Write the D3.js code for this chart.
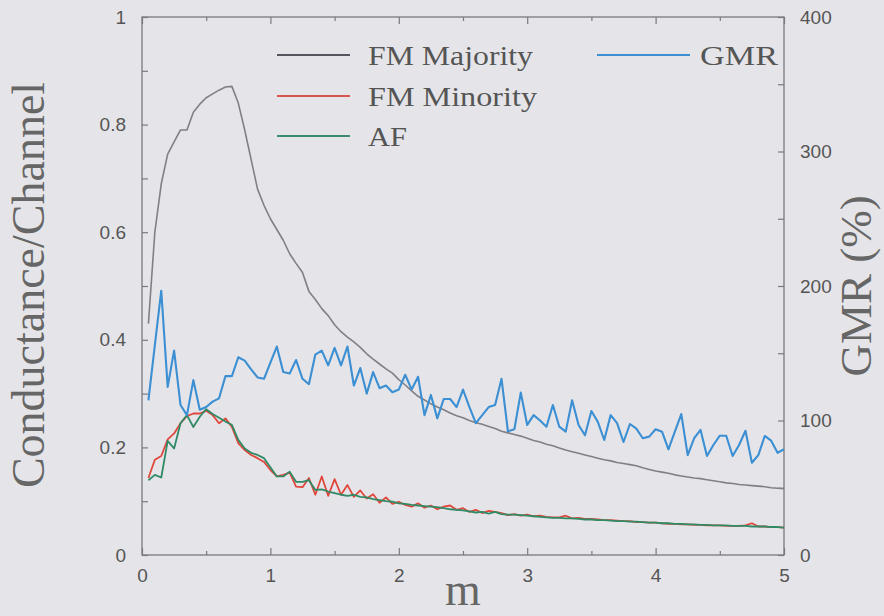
<!DOCTYPE html>
<html lang="en">
<head>
  <meta charset="UTF-8">
  <title>Conductance and GMR</title>
  <script src="https://d3js.org/d3.v7.min.js"></script>
  <style>
    body { margin: 0; background: #e6e6ea; }
  </style>
</head>
<body>
  <svg width="884" height="616"></svg>
  <script>
    // sampling points along m
    const mValues = [
      0.05, 0.10, 0.15, 0.20, 0.25, 0.30, 0.35, 0.40, 0.45, 0.50,
      0.55, 0.60, 0.65, 0.70, 0.75, 0.80, 0.85, 0.90, 0.95, 1.00,
      1.05, 1.10, 1.15, 1.20, 1.25, 1.30, 1.35, 1.40, 1.45, 1.50,
      1.55, 1.60, 1.65, 1.70, 1.75, 1.80, 1.85, 1.90, 1.95, 2.00,
      2.05, 2.10, 2.15, 2.20, 2.25, 2.30, 2.35, 2.40, 2.45, 2.50,
      2.55, 2.60, 2.65, 2.70, 2.75, 2.80, 2.85, 2.90, 2.95, 3.00,
      3.05, 3.10, 3.15, 3.20, 3.25, 3.30, 3.35, 3.40, 3.45, 3.50,
      3.55, 3.60, 3.65, 3.70, 3.75, 3.80, 3.85, 3.90, 3.95, 4.00,
      4.05, 4.10, 4.15, 4.20, 4.25, 4.30, 4.35, 4.40, 4.45, 4.50,
      4.55, 4.60, 4.65, 4.70, 4.75, 4.80, 4.85, 4.90, 4.95, 5.00
    ];

    const fmMajority = [
      0.430, 0.600, 0.690, 0.745, 0.768, 0.790, 0.790, 0.823, 0.838, 0.850,
      0.857, 0.864, 0.870, 0.871, 0.840, 0.790, 0.735, 0.680, 0.650, 0.625,
      0.605, 0.585, 0.560, 0.542, 0.525, 0.490, 0.475, 0.458, 0.445, 0.428,
      0.415, 0.405, 0.396, 0.386, 0.374, 0.364, 0.355, 0.346, 0.338, 0.326,
      0.316, 0.305, 0.295, 0.288, 0.281, 0.275, 0.270, 0.264, 0.259, 0.255,
      0.250, 0.246, 0.243, 0.239, 0.235, 0.230, 0.227, 0.224, 0.221, 0.217,
      0.213, 0.210, 0.206, 0.203, 0.199, 0.195, 0.192, 0.189, 0.186, 0.183,
      0.180, 0.177, 0.175, 0.172, 0.170, 0.168, 0.166, 0.162, 0.159, 0.156,
      0.154, 0.152, 0.149, 0.147, 0.145, 0.143, 0.142, 0.140, 0.138, 0.136,
      0.134, 0.133, 0.131, 0.130, 0.129, 0.128, 0.127, 0.125, 0.124, 0.123
    ];

    const fmMinority = [
      0.143, 0.177, 0.184, 0.215, 0.226, 0.245, 0.258, 0.263, 0.263, 0.268,
      0.260, 0.245, 0.254, 0.238, 0.208, 0.195, 0.186, 0.180, 0.173, 0.158,
      0.146, 0.149, 0.153, 0.127, 0.126, 0.143, 0.112, 0.146, 0.110, 0.141,
      0.112, 0.130, 0.108, 0.120, 0.105, 0.113, 0.097, 0.107, 0.095, 0.099,
      0.093, 0.090, 0.096, 0.088, 0.092, 0.085, 0.090, 0.092, 0.084, 0.087,
      0.080, 0.084, 0.078, 0.082, 0.080, 0.078, 0.074, 0.076, 0.073, 0.075,
      0.072, 0.073, 0.071, 0.070, 0.070, 0.073, 0.068, 0.069, 0.067, 0.067,
      0.066, 0.065, 0.065, 0.064, 0.063, 0.063, 0.061, 0.061, 0.060, 0.060,
      0.059, 0.058, 0.058, 0.057, 0.057, 0.056, 0.056, 0.055, 0.055, 0.055,
      0.054, 0.054, 0.054, 0.055, 0.059, 0.053, 0.053, 0.052, 0.052, 0.051
    ];

    const af = [
      0.139, 0.149, 0.144, 0.212, 0.198, 0.245, 0.260, 0.238, 0.257, 0.271,
      0.262, 0.255, 0.248, 0.242, 0.214, 0.198, 0.190, 0.186, 0.180, 0.163,
      0.146, 0.146, 0.155, 0.136, 0.136, 0.139, 0.121, 0.122, 0.118, 0.115,
      0.112, 0.110, 0.112, 0.108, 0.107, 0.104, 0.102, 0.100, 0.099, 0.096,
      0.095, 0.093, 0.092, 0.091, 0.090, 0.089, 0.087, 0.085, 0.084, 0.083,
      0.081, 0.079, 0.080, 0.077, 0.080, 0.076, 0.075, 0.075, 0.074, 0.073,
      0.072, 0.071, 0.070, 0.069, 0.069, 0.068, 0.068, 0.067, 0.066, 0.066,
      0.065, 0.065, 0.064, 0.063, 0.063, 0.062, 0.062, 0.061, 0.060, 0.060,
      0.059, 0.059, 0.058, 0.058, 0.057, 0.057, 0.056, 0.056, 0.055, 0.055,
      0.055, 0.054, 0.054, 0.054, 0.053, 0.053, 0.053, 0.052, 0.052, 0.051
    ];

    // GMR in percent, right axis
    const gmr = [
      115, 156, 196.5, 125, 152, 111.5, 104, 130, 108, 110,
      114, 116.5, 133, 133, 147, 144.5, 138, 132, 131, 143,
      155, 136, 135, 145, 131, 127, 149, 152, 141, 154,
      141, 155, 126, 139, 120, 136, 124, 126, 121, 123,
      134, 123, 132.5, 104, 119, 101.6, 116, 116, 110, 123,
      110, 98, 104, 110, 111.5, 131, 92, 93.5, 120.7, 96.7,
      104, 100, 95.4, 111.5, 95.4, 91.7, 115, 96.7, 89, 107,
      99, 85.5, 104, 98, 84, 97.4, 94, 86.8, 88, 93.5,
      91.7, 78.6, 91.7, 104.8, 74.3, 86.8, 93, 73.6, 81.8, 88.7,
      88.7, 73.6, 81.8, 92.4, 68.6, 74.3, 88.5, 85, 76, 78.6
    ];

    const xTicks = [0, 1, 2, 3, 4, 5];
    const leftTicks = [0, 0.2, 0.4, 0.6, 0.8, 1];
    const rightTicks = [0, 100, 200, 300, 400];

    const svg = d3.select('svg');
    svg.append('rect').attr('width', 884).attr('height', 616).attr('fill', '#e5e5e9');

    const x = d3.scaleLinear().domain([0, 5]).range([142, 784]);
    const yL = d3.scaleLinear().domain([0, 1]).range([555, 17]);
    const yR = d3.scaleLinear().domain([0, 400]).range([555, 17]);

    const axisColor = '#7a7a7e';
    const tickFont = '"Liberation Sans", Arial, sans-serif';
    const serif = '"Liberation Serif", "Times New Roman", serif';

    // frame
    svg.append('rect')
      .attr('x', x(0)).attr('y', yL(1))
      .attr('width', x(5) - x(0)).attr('height', yL(0) - yL(1))
      .attr('fill', 'none').attr('stroke', axisColor).attr('stroke-width', 1.3);

    function styleAxis(g) {
      g.select('.domain').remove();
      g.selectAll('.tick line').attr('stroke', axisColor).attr('stroke-width', 1.2);
      g.selectAll('.tick text')
        .attr('fill', '#555')
        .attr('font-family', tickFont)
        .attr('font-size', 19);
    }

    // bottom axis, ticks inward
    svg.append('g')
      .attr('transform', `translate(0,${yL(0)})`)
      .call(d3.axisBottom(x).tickValues(d3.range(0, 5.01, 0.5)).tickSize(-6).tickPadding(14)
        .tickFormat(d => xTicks.includes(d) ? d3.format('d')(d) : ''))
      .call(styleAxis)
      .call(g => g.selectAll('.tick line').attr('y2', d => xTicks.includes(d) ? -7 : -4));

    // top axis, ticks only
    svg.append('g')
      .attr('transform', `translate(0,${yL(1)})`)
      .call(d3.axisTop(x).tickValues(d3.range(0, 5.01, 0.5)).tickSize(-6).tickFormat(''))
      .call(styleAxis)
      .call(g => g.selectAll('.tick line').attr('y2', d => xTicks.includes(d) ? 7 : 4));

    // left axis
    svg.append('g')
      .attr('transform', `translate(${x(0)},0)`)
      .call(d3.axisLeft(yL).tickValues(d3.range(0, 1.01, 0.1)).tickSize(-6).tickPadding(16)
        .tickFormat(d => leftTicks.some(t => Math.abs(t - d) < 1e-6) ? d3.format('~g')(+d.toFixed(1)) : ''))
      .call(styleAxis);

    // right axis
    svg.append('g')
      .attr('transform', `translate(${x(5)},0)`)
      .call(d3.axisRight(yR).tickValues(d3.range(0, 401, 50)).tickSize(-6).tickPadding(16)
        .tickFormat(d => rightTicks.includes(d) ? d : ''))
      .call(styleAxis);

    // series
    const series = [
      { name: 'FM Majority', values: fmMajority, axis: yL, color: '#808084', legend: '#55555f', width: 1.6 },
      { name: 'FM Minority', values: fmMinority, axis: yL, color: '#e0473c', legend: '#d9544a', width: 1.8 },
      { name: 'AF', values: af, axis: yL, color: '#2f8a66', legend: '#3d8a6c', width: 1.8 },
      { name: 'GMR', values: gmr, axis: yR, color: '#3b8fd2', legend: '#3b8fd2', width: 2.1 }
    ];

    series.forEach(s => {
      const line = d3.line()
        .x((d, i) => x(mValues[i]))
        .y(d => s.axis(d));
      svg.append('path')
        .datum(s.values)
        .attr('d', line)
        .attr('fill', 'none')
        .attr('stroke', s.color)
        .attr('stroke-width', s.width)
        .attr('stroke-linejoin', 'round');
    });

    // legend (the scanned type is a little wider than Times)
    const legendPos = [
      { x1: 277, x2: 350, y: 55, tx: 368, len: 165 },
      { x1: 277, x2: 350, y: 96, tx: 368, len: 169 },
      { x1: 277, x2: 350, y: 136, tx: 368, len: 39 },
      { x1: 597, x2: 690, y: 55, tx: 700, len: 78 }
    ];
    series.forEach((s, i) => {
      const p = legendPos[i];
      svg.append('line')
        .attr('x1', p.x1).attr('x2', p.x2).attr('y1', p.y).attr('y2', p.y)
        .attr('stroke', s.legend).attr('stroke-width', 2);
      svg.append('text')
        .attr('x', p.tx).attr('y', p.y + 10)
        .attr('font-family', serif).attr('font-size', 28)
        .attr('textLength', p.len).attr('lengthAdjust', 'spacingAndGlyphs')
        .attr('fill', '#555')
        .text(s.name);
    });

    // axis titles
    svg.append('text')
      .attr('transform', 'translate(44,285) rotate(-90)')
      .attr('text-anchor', 'middle')
      .attr('font-family', serif).attr('font-size', 46)
      .attr('fill', '#666')
      .text('Conductance/Channel');

    svg.append('text')
      .attr('x', 463).attr('y', 605)
      .attr('text-anchor', 'middle')
      .attr('font-family', serif).attr('font-size', 46)
      .attr('fill', '#666')
      .text('m');

    svg.append('text')
      .attr('transform', 'translate(871,286) rotate(-90)')
      .attr('text-anchor', 'middle')
      .attr('font-family', serif).attr('font-size', 45)
      .attr('fill', '#666')
      .text('GMR (%)');
  </script>
</body>
</html>
